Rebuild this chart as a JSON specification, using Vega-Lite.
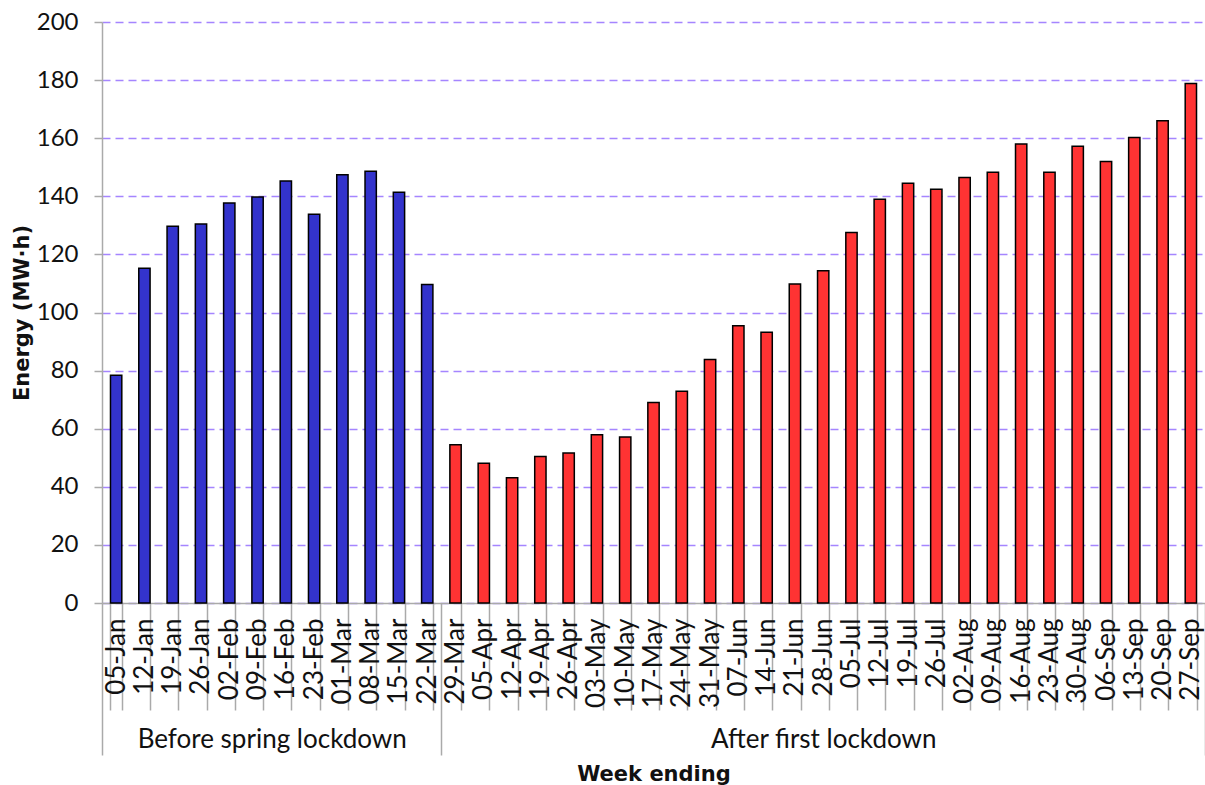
{
  "$schema": "https://vega.github.io/schema/vega-lite/v6.json",
  "width": 1103,
  "height": 581,
  "autosize": {"type": "none"},
  "padding": {"left": 102, "top": 22, "right": 0, "bottom": 182},
  "background": "white",
  "config": {"view": {"stroke": null}, "font": "Lato"},
  "datasets": {
    "weeks": [
      {"week": "05-Jan", "energy": 78.4, "period": "Before spring lockdown"},
      {"week": "12-Jan", "energy": 115.2, "period": "Before spring lockdown"},
      {"week": "19-Jan", "energy": 129.7, "period": "Before spring lockdown"},
      {"week": "26-Jan", "energy": 130.5, "period": "Before spring lockdown"},
      {"week": "02-Feb", "energy": 137.7, "period": "Before spring lockdown"},
      {"week": "09-Feb", "energy": 139.8, "period": "Before spring lockdown"},
      {"week": "16-Feb", "energy": 145.3, "period": "Before spring lockdown"},
      {"week": "23-Feb", "energy": 133.8, "period": "Before spring lockdown"},
      {"week": "01-Mar", "energy": 147.4, "period": "Before spring lockdown"},
      {"week": "08-Mar", "energy": 148.6, "period": "Before spring lockdown"},
      {"week": "15-Mar", "energy": 141.4, "period": "Before spring lockdown"},
      {"week": "22-Mar", "energy": 109.6, "period": "Before spring lockdown"},
      {"week": "29-Mar", "energy": 54.5, "period": "After first lockdown"},
      {"week": "05-Apr", "energy": 48.1, "period": "After first lockdown"},
      {"week": "12-Apr", "energy": 43.1, "period": "After first lockdown"},
      {"week": "19-Apr", "energy": 50.4, "period": "After first lockdown"},
      {"week": "26-Apr", "energy": 51.6, "period": "After first lockdown"},
      {"week": "03-May", "energy": 57.9, "period": "After first lockdown"},
      {"week": "10-May", "energy": 57.1, "period": "After first lockdown"},
      {"week": "17-May", "energy": 69.0, "period": "After first lockdown"},
      {"week": "24-May", "energy": 72.9, "period": "After first lockdown"},
      {"week": "31-May", "energy": 83.8, "period": "After first lockdown"},
      {"week": "07-Jun", "energy": 95.4, "period": "After first lockdown"},
      {"week": "14-Jun", "energy": 93.2, "period": "After first lockdown"},
      {"week": "21-Jun", "energy": 109.8, "period": "After first lockdown"},
      {"week": "28-Jun", "energy": 114.4, "period": "After first lockdown"},
      {"week": "05-Jul", "energy": 127.5, "period": "After first lockdown"},
      {"week": "12-Jul", "energy": 139.0, "period": "After first lockdown"},
      {"week": "19-Jul", "energy": 144.5, "period": "After first lockdown"},
      {"week": "26-Jul", "energy": 142.4, "period": "After first lockdown"},
      {"week": "02-Aug", "energy": 146.5, "period": "After first lockdown"},
      {"week": "09-Aug", "energy": 148.3, "period": "After first lockdown"},
      {"week": "16-Aug", "energy": 158.0, "period": "After first lockdown"},
      {"week": "23-Aug", "energy": 148.3, "period": "After first lockdown"},
      {"week": "30-Aug", "energy": 157.2, "period": "After first lockdown"},
      {"week": "06-Sep", "energy": 152.0, "period": "After first lockdown"},
      {"week": "13-Sep", "energy": 160.2, "period": "After first lockdown"},
      {"week": "20-Sep", "energy": 166.0, "period": "After first lockdown"},
      {"week": "27-Sep", "energy": 178.8, "period": "After first lockdown"}
    ],
    "groups": [
      {"period": "Before spring lockdown", "start": 0, "end": 12, "mid": 6},
      {"period": "After first lockdown", "start": 12, "end": 39, "mid": 25.5}
    ]
  },
  "resolve": {"scale": {"x": "independent"}, "axis": {"x": "independent"}},
  "layer": [
    {
      "data": {"name": "weeks"},
      "mark": {"type": "bar", "stroke": "black", "strokeWidth": 1.5},
      "encoding": {
        "x": {
          "field": "week", "type": "nominal", "sort": null,
          "scale": {"paddingInner": 0.6, "paddingOuter": 0.3},
          "axis": {
            "orient": "bottom", "title": null, "labelAngle": 270,
            "labelFontSize": 26, "labelColor": "#111", "labelFont": "Lato", "labelLimit": 0,
            "tickBand": "extent", "tickSize": 107, "tickColor": "#aaaaaa", "tickWidth": 1.5,
            "labelPadding": -92, "domainColor": "#aaaaaa", "domainWidth": 1.5, "grid": false
          }
        },
        "y": {
          "field": "energy", "type": "quantitative",
          "scale": {"domain": [0, 200], "nice": false},
          "axis": {
            "title": "Energy (MW·h)", "titleFont": "DejaVu Sans", "titleFontSize": 21,
            "titleFontWeight": "bold", "titleColor": "#111", "titlePadding": 4,
            "values": [0, 20, 40, 60, 80, 100, 120, 140, 160, 180, 200],
            "labelFontSize": 24, "labelColor": "#111", "labelPadding": 16,
            "tickSize": 8, "tickColor": "#aaaaaa", "tickWidth": 1.5,
            "domainColor": "#aaaaaa", "domainWidth": 1.5,
            "grid": true, "gridColor": "#a585ff", "gridDash": [8, 5], "gridWidth": 1.5, "gridOpacity": 1
          }
        },
        "color": {
          "field": "period", "type": "nominal", "legend": null,
          "scale": {"domain": ["Before spring lockdown", "After first lockdown"], "range": ["#3333cc", "#ff3333"]}
        }
      }
    },
    {
      "data": {"name": "groups"},
      "mark": {"type": "rule", "opacity": 0},
      "encoding": {
        "x": {
          "field": "mid", "type": "quantitative",
          "scale": {"domain": [0, 39], "nice": false, "zero": false},
          "axis": {
            "orient": "bottom", "values": [6, 25.5],
            "labelExpr": "datum.value < 10 ? 'Before spring lockdown' : 'After first lockdown'",
            "ticks": false, "domain": false, "grid": false, "labelLimit": 0,
            "labelFontSize": 26, "labelColor": "#111", "labelPadding": 123, "labelAngle": 0,
            "title": "Week ending", "titleFont": "DejaVu Sans", "titleFontSize": 21,
            "titleFontWeight": "bold", "titleColor": "#111",
            "titleY": 160, "titleBaseline": "top"
          }
        }
      }
    },
    {
      "data": {"name": "groups"},
      "mark": {"type": "rule", "opacity": 0},
      "encoding": {
        "x": {
          "field": "start", "type": "quantitative",
          "scale": {"domain": [0, 39], "nice": false, "zero": false},
          "axis": {
            "orient": "bottom", "values": [0, 12, 39], "labels": false,
            "domain": false, "grid": false, "title": null,
            "tickSize": 152, "tickColor": "#aaaaaa", "tickWidth": 1.5
          }
        }
      }
    }
  ]
}
